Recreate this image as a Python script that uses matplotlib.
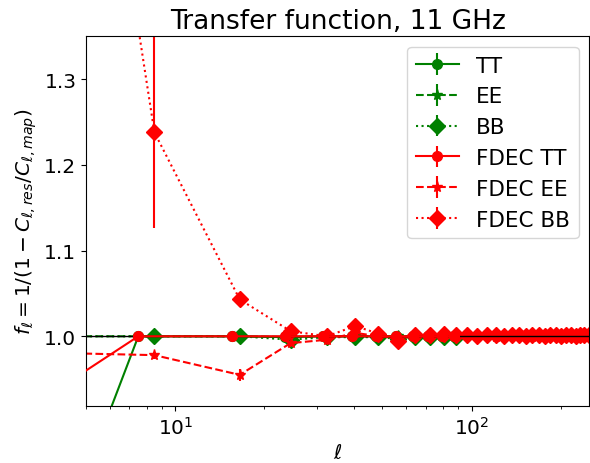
import matplotlib
matplotlib.use("Agg")
import matplotlib.pyplot as plt

# bin centres
ell_tt = [3.5, 7.5, 15.5, 23.5, 31.5, 39.5, 47.5, 55.5, 63.5, 71.5, 79.5, 87.5]
ell_pol = [3.5, 8.5, 16.5, 24.5, 32.5, 40.5, 48.5, 56.5, 64.5, 72.5, 80.5, 88.5]
ell_pol_fdec = ell_pol + [96.5, 104.5, 112.5, 120.5, 128.5, 136.5, 144.5, 152.5,
                          160.5, 168.5, 176.5, 184.5, 192.5, 200.5, 208.5, 216.5,
                          224.5, 232.5, 240.5, 248.5]

# standard transfer functions
tt = [0.70, 1.000, 1.000, 0.999, 1.000, 1.000, 1.000, 1.000, 1.000, 1.000, 1.000, 1.000]
tt_err = [0.02, 0.001, 0.001, 0.001, 0.001, 0.001, 0.001, 0.001, 0.001, 0.001, 0.001, 0.001]
ee = [1.000, 1.000, 1.000, 0.999, 1.000, 1.000, 1.000, 1.000, 1.000, 1.000, 1.000, 1.000]
ee_err = [0.001, 0.001, 0.001, 0.002, 0.002, 0.002, 0.002, 0.002, 0.002, 0.002, 0.002, 0.002]
bb = [1.000, 1.000, 1.000, 0.996, 0.999, 0.999, 0.999, 0.997, 0.999, 0.999, 0.999, 0.999]
bb_err = [0.001, 0.002, 0.002, 0.003, 0.003, 0.003, 0.003, 0.003, 0.003, 0.003, 0.003, 0.003]

# FDEC transfer functions
fdec_tt = [0.925, 1.000, 1.000, 1.000, 1.000, 1.000, 1.000, 1.000, 1.000, 1.000, 1.000, 1.000]
fdec_tt_err = [0.01, 0.001, 0.001, 0.001, 0.001, 0.001, 0.001, 0.001, 0.001, 0.001, 0.001, 0.001]
fdec_ee = [0.981, 0.978, 0.955, 0.992, 0.996, 1.004, 1.000, 0.998, 1.001, 1.000, 1.001, 1.000,
           1.000, 1.001, 1.000, 0.999, 1.000, 1.001, 1.000, 1.000, 0.999, 1.000,
           1.000, 1.001, 1.000, 1.000, 0.999, 1.000, 1.001, 1.000, 1.000, 1.000]
fdec_ee_err = [0.004, 0.004, 0.007, 0.004, 0.004, 0.003, 0.003, 0.003, 0.003, 0.003, 0.003, 0.003,
               0.003, 0.003, 0.003, 0.003, 0.003, 0.003, 0.003, 0.003, 0.003, 0.003,
               0.003, 0.003, 0.003, 0.003, 0.003, 0.003, 0.003, 0.003, 0.003, 0.003]
fdec_bb = [2.10, 1.238, 1.043, 1.006, 1.000, 1.012, 1.003, 0.995, 1.002, 1.001, 1.003, 1.001,
           1.002, 1.000, 1.002, 1.001, 1.000, 1.002, 1.001, 1.000, 1.002, 1.001,
           1.000, 1.001, 1.002, 1.000, 1.001, 1.002, 1.000, 1.001, 1.002, 1.001]
fdec_bb_err = [0.3, 0.112, 0.009, 0.004, 0.004, 0.004, 0.003, 0.003, 0.003, 0.003, 0.003, 0.003,
               0.003, 0.003, 0.003, 0.003, 0.003, 0.003, 0.003, 0.003, 0.003, 0.003,
               0.003, 0.003, 0.003, 0.003, 0.003, 0.003, 0.003, 0.003, 0.003, 0.003]

plt.rcParams["font.size"] = 14.5

fig = plt.figure(figsize=(5.9, 4.64), dpi=100)
ax = fig.add_axes([0.146, 0.1235, 0.853, 0.796])

ax.errorbar(ell_tt, tt, yerr=tt_err, color="green", ls="-", marker="o", ms=7, label="TT", zorder=2)
ax.errorbar(ell_pol, ee, yerr=ee_err, color="green", ls="--", marker="*", ms=8, label="EE", zorder=2)
ax.errorbar(ell_pol, bb, yerr=bb_err, color="green", ls=":", marker="D", ms=8, label="BB", zorder=2)
ax.errorbar(ell_tt, fdec_tt, yerr=fdec_tt_err, color="red", ls="-", marker="o", ms=7,
            label="FDEC TT", zorder=3)
ax.errorbar(ell_pol_fdec, fdec_ee, yerr=fdec_ee_err, color="red", ls="--", marker="*", ms=8,
            label="FDEC EE", zorder=2)
ax.errorbar(ell_pol_fdec, fdec_bb, yerr=fdec_bb_err, color="red", ls=":", marker="D", ms=8,
            label="FDEC BB", zorder=2)
ax.axhline(1.0, color="k", lw=1, zorder=2.5)

ax.set_xscale("log")
ax.set_xlim(5, 250)
ax.set_ylim(0.919, 1.35)
ax.set_yticks([1.0, 1.1, 1.2, 1.3])
ax.set_xlabel(r"$\ell$")
ax.set_ylabel(r"$f_\ell = 1/(1 - C_{\ell,res}/C_{\ell,map})$")
ax.set_title("Transfer function, 11 GHz", fontsize=19)
ax.legend(loc="upper right", fontsize=15.5)

fig.savefig("out.png", dpi=100)
